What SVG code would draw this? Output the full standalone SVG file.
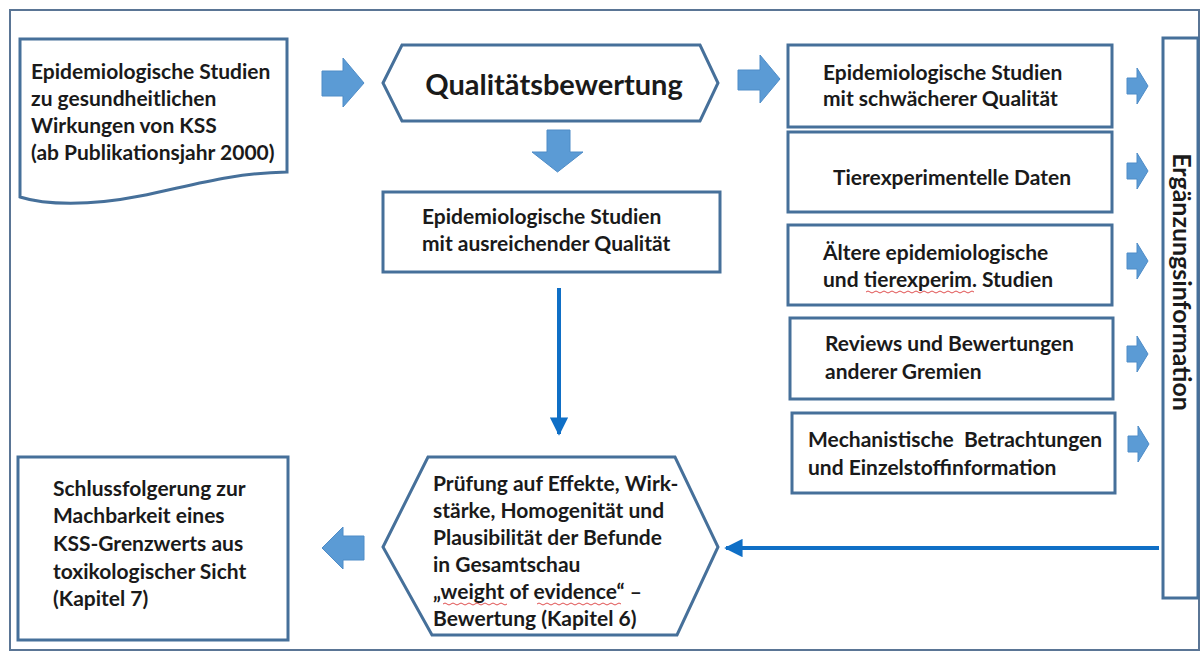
<svg xmlns="http://www.w3.org/2000/svg" width="1200" height="652" viewBox="0 0 1200 652">
<style>
.frame{fill:#fff;stroke:#5a7595;stroke-width:2}
.box{fill:#fff;stroke:#46709a;stroke-width:3}
.t{font-family:Lato,"Open Sans","Liberation Sans",sans-serif;font-weight:700;font-size:21px;fill:#1a1a1a}
.big{font-size:29px}
.vert{font-size:25px}
.blk{fill:#5b9bd5;stroke:#4f8cc7;stroke-width:1}
.conn{fill:none;stroke:#0f6fc6;stroke-width:4}
.sq{fill:none;stroke:#e05050;stroke-width:1}
</style>
<defs>
<marker id="ah" viewBox="0 0 10 10" refX="9" refY="5" markerWidth="4.6" markerHeight="4.6" orient="auto" markerUnits="strokeWidth">
<path d="M0,0 L10,5 L0,10 Z" fill="#0f6fc6"/>
</marker>
</defs>
<rect class="frame" x="10" y="10" width="1189" height="640"/>

<g id="n-source">
<path class="box" d="M20,39 L287,39 L287,172 C230,173 190,186 140,196 C90,206 45,205 20,197 Z"/>
<text class="t" x="31" y="79">Epidemiologische Studien</text>
<text class="t" x="31" y="106">zu gesundheitlichen</text>
<text class="t" x="31" y="133">Wirkungen von KSS</text>
<text class="t" x="31" y="160">(ab Publikationsjahr 2000)</text>
</g>

<g id="n-quality">
<path class="box" d="M383,83 L402,45 L700,45 L718,83 L700,121 L402,121 Z"/>
<text class="t big" x="554" y="95" text-anchor="middle">Qualitätsbewertung</text>
</g>

<g id="n-sufficient">
<rect class="box" x="383" y="192" width="337" height="80"/>
<text class="t" x="422" y="224">Epidemiologische Studien</text>
<text class="t" x="422" y="251">mit ausreichender Qualität</text>
</g>

<g id="n-weak">
<rect class="box" x="788" y="45" width="324" height="82"/>
<text class="t" x="823" y="80">Epidemiologische Studien</text>
<text class="t" x="823" y="106">mit schwächerer Qualität</text>
</g>

<g id="n-animal">
<rect class="box" x="788" y="132" width="324" height="80"/>
<text class="t" x="833" y="185">Tierexperimentelle Daten</text>
</g>

<g id="n-older">
<rect class="box" x="788" y="225" width="324" height="80"/>
<text class="t" x="823" y="260">Ältere epidemiologische</text>
<text class="t" x="823" y="287">und tierexperim. Studien</text>
<path class="sq" d="M866,292 q2,-2 4,0 t4,0 t4,0 t4,0 t4,0 t4,0 t4,0 t4,0 t4,0 t4,0 t4,0 t4,0 t4,0 t4,0 t4,0 t4,0 t4,0 t4,0 t4,0 t4,0 t4,0 t4,0 t4,0 t4,0 t4,0 t4,0 t4,0"/>
</g>

<g id="n-reviews">
<rect class="box" x="790" y="318" width="323" height="81"/>
<text class="t" x="825" y="351">Reviews und Bewertungen</text>
<text class="t" x="825" y="379">anderer Gremien</text>
</g>

<g id="n-mech">
<rect class="box" x="792" y="413" width="323" height="80"/>
<text class="t" x="808" y="447" xml:space="preserve">Mechanistische  Betrachtungen</text>
<text class="t" x="808" y="475">und Einzelstoffinformation</text>
</g>

<g id="n-supplement">
<rect class="box" x="1163" y="38" width="35" height="560"/>
<text class="t vert" transform="translate(1173,282) rotate(90)" text-anchor="middle">Ergänzungsinformation</text>
</g>

<g id="n-woe">
<path class="box" d="M383,547 L428,457 L675,457 L718,547 L677,635 L432,635 Z"/>
<text class="t" x="433" y="491">Prüfung auf Effekte, Wirk-</text>
<text class="t" x="433" y="518">stärke, Homogenität und</text>
<text class="t" x="433" y="545">Plausibilität der Befunde</text>
<text class="t" x="433" y="572">in Gesamtschau</text>
<text class="t" x="433" y="599">„weight of evidence“ –</text>
<text class="t" x="433" y="626">Bewertung (Kapitel 6)</text>
<path class="sq" d="M443,604 q2,-2 4,0 t4,0 t4,0 t4,0 t4,0 t4,0 t4,0 t4,0 t4,0 t4,0 t4,0 t4,0 t4,0 t4,0 t4,0 t4,0"/>
<path class="sq" d="M537,604 q2,-2 4,0 t4,0 t4,0 t4,0 t4,0 t4,0 t4,0 t4,0 t4,0 t4,0 t4,0 t4,0 t4,0 t4,0 t4,0 t4,0 t4,0 t4,0 t4,0 t4,0 t4,0"/>
</g>

<g id="n-conclusion">
<rect class="box" x="18" y="457" width="270" height="183"/>
<text class="t" x="53" y="496">Schlussfolgerung zur</text>
<text class="t" x="53" y="523">Machbarkeit eines</text>
<text class="t" x="53" y="551">KSS-Grenzwerts aus</text>
<text class="t" x="53" y="579">toxikologischer Sicht</text>
<text class="t" x="53" y="606">(Kapitel 7)</text>
</g>

<g id="connectors">
<path class="blk" d="M322,71 L343,71 L343,58 L364,83 L343,107 L343,96 L322,96 Z"/>
<path class="blk" d="M738,70 L760,70 L760,55 L780,79 L760,103 L760,90 L738,90 Z"/>
<path class="blk" d="M547,130 L570,130 L570,152 L583,152 L557.5,172 L532,152 L547,152 Z"/>
<path class="blk" d="M364,536 L343,536 L343,527 L322,548 L343,569 L343,560 L364,560 Z"/>
<path class="blk" d="M1127,78 L1137,78 L1137,68 L1148,86 L1137,104 L1137,94 L1127,94 Z"/>
<path class="blk" d="M1127,163 L1137,163 L1137,153 L1148,171 L1137,189 L1137,179 L1127,179 Z"/>
<path class="blk" d="M1127,253 L1137,253 L1137,243 L1148,261 L1137,279 L1137,269 L1127,269 Z"/>
<path class="blk" d="M1127,346 L1137,346 L1137,336 L1148,354 L1137,372 L1137,362 L1127,362 Z"/>
<path class="blk" d="M1128,436 L1138,436 L1138,426 L1149,444 L1138,462 L1138,452 L1128,452 Z"/>
<path class="conn" d="M559,288 L559,434" marker-end="url(#ah)"/>
<path class="conn" d="M1159,548 L726,548" marker-end="url(#ah)"/>
</g>
</svg>
